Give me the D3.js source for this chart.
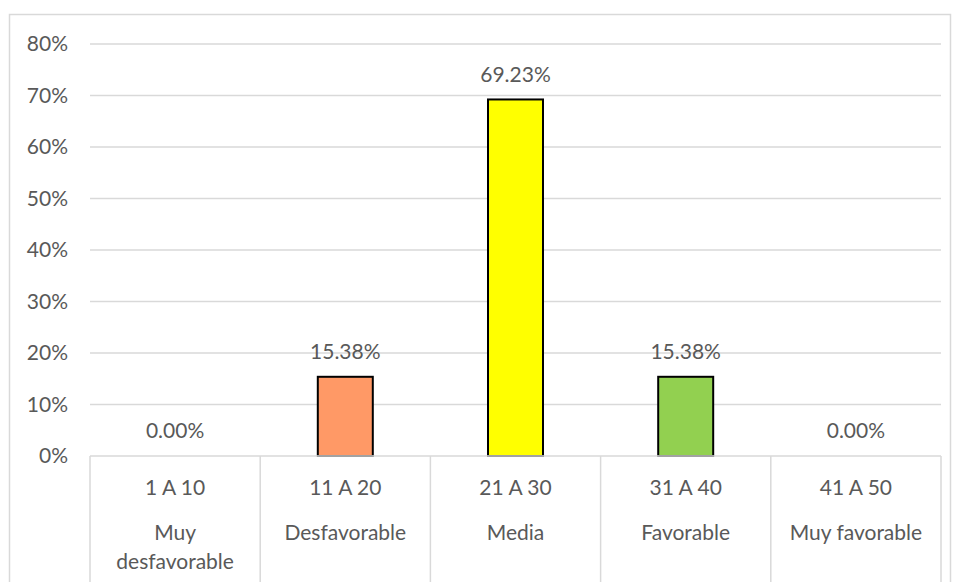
<!DOCTYPE html>
<html lang="en">
<head>
    <meta charset="UTF-8">
    <title>Distribución por rango</title>
    <style>
        body { margin: 0; background: #fff; }
        svg text { font-family: Lato, "Open Sans", sans-serif; fill: #595959; font-size: 21px; }
        .grid line { stroke: #d9d9d9; stroke-width: 1.5px; }
        .sep { stroke: #d9d9d9; stroke-width: 1.5px; }
    </style>
</head>
<body>
    <div id="chart"></div>
    <script src="https://d3js.org/d3.v7.min.js"></script>
    <script>
        const ranges = ["1 A 10", "11 A 20", "21 A 30", "31 A 40", "41 A 50"];
        const levels = [["Muy", "desfavorable"], ["Desfavorable"], ["Media"], ["Favorable"], ["Muy favorable"]];
        const values = [0, 15.38, 69.23, 15.38, 0];
        const barColors = ["#ff9966", "#ff9966", "#ffff00", "#92d050", "#92d050"];
        const yTicks = [0, 10, 20, 30, 40, 50, 60, 70, 80];

        const W = 954, H = 582;
        const plot = { left: 90, right: 941, top: 44, bottom: 456 };

        const svg = d3.select("#chart").append("svg")
            .attr("width", W)
            .attr("height", H);

        // outer chart border (bottom edge runs off the picture)
        svg.append("path")
            .attr("d", "M9.5,600 V14.5 H950.5 V600")
            .attr("fill", "none")
            .attr("stroke", "#d9d9d9")
            .attr("stroke-width", 1.5);

        const x = d3.scaleBand()
            .domain(ranges)
            .range([plot.left, plot.right]);

        const y = d3.scaleLinear()
            .domain([0, 80])
            .range([plot.bottom, plot.top]);

        const rows = ranges.map((r, i) => ({ range: r, value: values[i], color: barColors[i], level: levels[i] }));

        // gridlines
        svg.append("g")
            .attr("class", "grid")
            .selectAll("line")
            .data(yTicks.filter(d => d > 0))
            .enter().append("line")
            .attr("x1", plot.left)
            .attr("x2", plot.right)
            .attr("y1", d => y(d))
            .attr("y2", d => y(d));

        // y tick labels
        svg.append("g")
            .selectAll("text")
            .data(yTicks)
            .enter().append("text")
            .attr("x", 68)
            .attr("y", d => y(d))
            .attr("dy", "0.35em")
            .attr("text-anchor", "end")
            .text(d => d + "%");

        // bars
        const barW = 55;
        svg.append("g")
            .selectAll("rect")
            .data(rows.filter(d => d.value > 0))
            .enter().append("rect")
            .attr("x", d => x(d.range) + x.bandwidth() / 2 - barW / 2)
            .attr("y", d => y(d.value))
            .attr("width", barW)
            .attr("height", d => y(0) - y(d.value))
            .attr("fill", d => d.color)
            .attr("stroke", "#000")
            .attr("stroke-width", 2);

        // data labels
        svg.append("g")
            .selectAll("text")
            .data(rows)
            .enter().append("text")
            .attr("x", d => x(d.range) + x.bandwidth() / 2)
            .attr("y", d => y(d.value) - 25)
            .attr("dy", "0.35em")
            .attr("text-anchor", "middle")
            .text(d => d.value.toFixed(2) + "%");

        // category axis: baseline and separators
        svg.append("line")
            .attr("class", "sep")
            .attr("x1", plot.left).attr("x2", plot.right)
            .attr("y1", plot.bottom).attr("y2", plot.bottom);

        const bounds = ranges.map(r => x(r)).concat([plot.right]);
        svg.append("g")
            .selectAll("line")
            .data(bounds)
            .enter().append("line")
            .attr("class", "sep")
            .attr("x1", d => d).attr("x2", d => d)
            .attr("y1", plot.bottom).attr("y2", H + 10);

        const cat = svg.append("g")
            .selectAll("g")
            .data(rows)
            .enter().append("g")
            .attr("transform", d => `translate(${x(d.range) + x.bandwidth() / 2},0)`);

        cat.append("text")
            .attr("y", 488)
            .attr("dy", "0.35em")
            .attr("text-anchor", "middle")
            .text(d => d.range);

        cat.selectAll("text.lvl")
            .data(d => d.level)
            .enter().append("text")
            .attr("class", "lvl")
            .attr("y", (t, j) => 533 + j * 29)
            .attr("dy", "0.35em")
            .attr("text-anchor", "middle")
            .text(t => t);
    </script>
</body>
</html>
